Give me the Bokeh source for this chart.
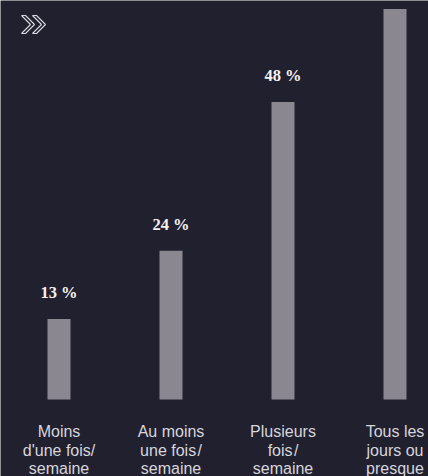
from bokeh.plotting import figure
from bokeh.models import Range1d, ColumnDataSource
from bokeh.core.properties import value
from bokeh.embed import file_html
from bokeh.resources import INLINE

# Data
categories = ["Moins\nd'une fois/\nsemaine",
              "Au moins\nune fois\u200a/\nsemaine",
              "Plusieurs\nfois\u200a/\nsemaine",
              "Tous les\njours ou\npresque"]
values = [13, 24, 48, 63]
# the fourth bar's label lies above the visible area in the reference
value_labels = ["13 %", "24 %", "48 %", ""]

BG = "#21202f"
BAR = "#8a8791"

W, H = 428, 476
px_per_cat = 112.0
px_per_unit = 6.2
x0_px = 58.5
base_px = 399.0

def px2x(px):
    return (px - x0_px) / px_per_cat

def px2y(py):
    return (base_px - py) / px_per_unit

p = figure(width=W, height=H, output_backend="svg", toolbar_location=None,
           x_range=Range1d(px2x(0), px2x(W)), y_range=Range1d(px2y(H), px2y(0)),
           min_border=0, background_fill_color=BG, border_fill_color=BG)
p.axis.visible = False
p.grid.visible = False
p.outline_line_color = None

xs = list(range(len(values)))
src = ColumnDataSource(dict(x=xs, top=values, lab=value_labels))
p.vbar(x="x", top="top", bottom=0, width=23 / px_per_cat, source=src,
       fill_color=BAR, line_color=None)

p.text(x="x", y="top", text="lab", source=src, y_offset=-26,
       text_align="center", text_baseline="middle",
       text_font=value("Liberation Serif"), text_font_style="bold",
       text_font_size="16.5px", text_color="#f2f2f5")

# category labels, line by line
lines = [c.split("\n") for c in categories]
for i in range(3):
    lx = [j for j in xs if i < len(lines[j])]
    lt = [lines[j][i] for j in lx]
    p.text(x=lx, y=[0] * len(lx), text=lt, y_offset=32 + i * 18.5,
           text_align="center", text_baseline="middle",
           text_font=value("Liberation Sans"), text_font_size="16px",
           text_color="#d6d6dc")

# double chevron icon (decoration)
def chev(ox):
    pts = [(0, 0), (4, 0), (13, 9), (4, 18), (0, 18), (9, 9)]
    return [px2x(ox + a) for a, b in pts], [px2y(15 + b) for a, b in pts]

cx1, cy1 = chev(21)
cx2, cy2 = chev(32)
p.patches([cx1, cx2], [cy1, cy2], fill_color=BG, line_color="#d8d8e0",
          line_width=1.1)

open("out.html", "w").write(file_html(p, INLINE))
